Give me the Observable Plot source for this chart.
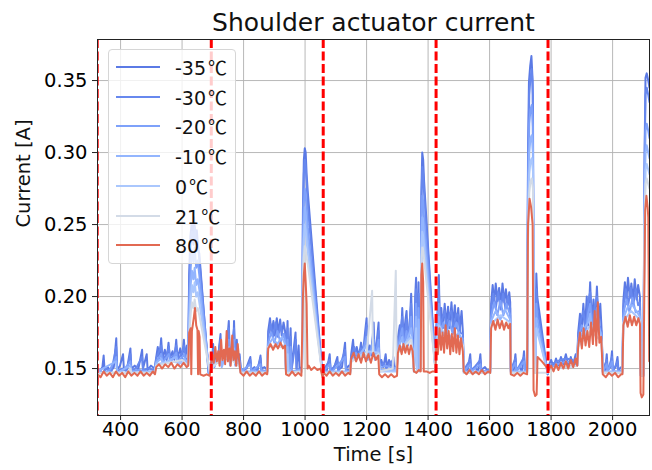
<!DOCTYPE html>
<html><head><meta charset="utf-8">
<script src="https://cdn.jsdelivr.net/npm/d3@7"></script>
<script src="https://cdn.jsdelivr.net/npm/@observablehq/plot@0.6"></script>
<style>
body{margin:0;background:#fff;font-family:"DejaVu Sans",sans-serif;}
#wrap{position:relative;width:652px;height:470px;overflow:hidden;}
#legend{position:absolute;left:108px;top:49px;width:128px;height:215px;background:rgba(255,255,255,0.8);border:1px solid #d6d6d6;border-radius:4px;box-sizing:border-box;}
.li{position:absolute;left:0;height:30px;width:128px;}
.ln{position:absolute;left:7px;width:44px;height:2px;top:14px;}
.lt{position:absolute;left:66px;top:2px;font-size:19px;line-height:26px;color:#111;white-space:nowrap;}
.deg{font-family:"Noto Sans CJK JP","DejaVu Sans",sans-serif;margin-left:2px;}
</style></head>
<body><div id="wrap"></div>
<script>
// ---- data ----
const seriesNames = ["-35", "-30", "-20", "-10", "0", "21", "80"];
const seriesColors = ["#5b7ae5", "#6788ee", "#7ea1fa", "#93b5fe", "#aac7fd", "#d3dbe7", "#e26952"];
const xTicks = [400, 600, 800, 1000, 1200, 1400, 1600, 1800, 2000];
const yTicks = [0.15, 0.20, 0.25, 0.30, 0.35];
const splitTimes = [324, 695, 1059, 1426, 1790];

const sM35 = [[325,.150],[333,.148],[341,.151],[345,.159],[348,.149],[358,.151],[368,.148],[378,.151],[386,.171],[389,.149],[398,.152],[408,.160],[411,.149],[422,.151],[432,.164],[435,.150],[446,.152],[457,.149],[470,.163],[473,.150],[485,.160],[488,.149],[499,.152],[511,.150],
[516,.158],[521,.165],[526,.156],[532,.171],[536,.157],[544,.163],[550,.156],[556,.168],[560,.157],[569,.162],[575,.156],[581,.170],[585,.157],[594,.164],[600,.157],[606,.170],[610,.158],[616,.166],[620,.157],
[623,.215],[627,.242],[631,.250],[635,.238],[639,.255],[644,.240],[648,.246],[653,.232],[656,.230],[686,.147],
[694,.152],[699,.160],[701,.167],[704,.153],[710,.158],[716,.154],[721,.166],[725,.174],[728,.155],[735,.162],[741,.156],[748,.172],[752,.183],[755,.157],[761,.163],[766,.158],[769,.183],[772,.157],[778,.170],[782,.156],[787,.160],
[791,.150],[800,.148],[810,.151],[822,.158],[825,.149],[835,.151],[845,.148],[855,.159],[858,.150],[868,.151],[877,.149],
[880,.176],[886,.185],[891,.174],[897,.183],[902,.173],[908,.185],[913,.175],[919,.184],[924,.173],[930,.182],[935,.176],
[938,.150],[943,.183],[946,.150],[953,.178],[956,.150],[969,.175],[972,.150],[979,.166],[982,.150],[990,.151],
[993,.260],[996,.295],[999,.303],[1002,.300],[1005,.285],[1009,.272],[1056,.146],
[1060,.150],[1070,.148],[1080,.160],[1083,.149],[1095,.151],[1105,.158],[1108,.149],[1120,.151],[1130,.168],[1133,.150],[1142,.152],[1147,.150],
[1150,.160],[1156,.170],[1160,.158],[1168,.165],[1175,.158],[1182,.168],[1188,.159],[1195,.175],[1200,.185],[1203,.160],[1210,.166],[1216,.159],[1223,.182],[1226,.160],[1232,.166],[1239,.182],
[1242,.152],[1248,.156],[1255,.151],[1262,.160],[1266,.151],[1273,.156],[1280,.150],[1287,.158],[1290,.150],[1298,.152],
[1302,.172],[1308,.180],[1312,.170],[1316,.192],[1320,.171],[1326,.183],[1330,.190],[1334,.171],[1340,.180],[1345,.202],[1349,.172],
[1354,.150],[1358,.200],[1361,.213],[1364,.152],[1369,.210],[1372,.152],[1376,.155],
[1378,.270],[1381,.300],[1384,.295],[1387,.280],[1424,.150],
[1427,.180],[1432,.190],[1435,.215],[1438,.182],[1443,.192],[1448,.178],[1454,.195],[1459,.180],[1465,.193],[1470,.178],[1476,.196],[1481,.180],[1487,.194],[1492,.178],[1498,.192],[1503,.177],[1509,.190],[1513,.176],
[1516,.150],[1528,.148],[1537,.160],[1540,.149],[1552,.151],[1563,.148],[1570,.160],[1573,.149],[1585,.151],[1595,.148],[1602,.150],
[1605,.195],[1610,.208],[1615,.196],[1620,.209],[1626,.197],[1631,.206],[1637,.195],[1642,.209],[1648,.196],[1653,.205],[1659,.194],[1664,.203],[1667,.196],
[1669,.150],[1678,.148],[1684,.160],[1687,.149],[1697,.151],[1705,.148],[1712,.162],[1715,.149],[1722,.150],
[1725,.300],[1728,.349],[1732,.360],[1736,.367],[1740,.350],[1743,.200],[1748,.150],[1752,.216],[1755,.200],[1789,.146],
[1792,.152],[1800,.156],[1808,.151],[1816,.157],[1824,.152],[1832,.158],[1840,.153],[1848,.160],[1856,.152],[1864,.158],[1872,.153],[1880,.160],[1885,.154],
[1888,.175],[1894,.188],[1899,.176],[1905,.195],[1910,.178],[1916,.200],[1921,.180],[1927,.210],[1932,.182],[1938,.198],[1943,.180],[1949,.207],[1954,.182],[1960,.195],[1964,.178],
[1968,.150],[1976,.148],[1981,.160],[1984,.149],[1993,.151],[1998,.162],[2001,.149],[2010,.151],[2016,.158],[2019,.149],[2028,.151],[2032,.150],
[2035,.197],[2040,.210],[2045,.198],[2050,.213],[2056,.199],[2061,.209],[2067,.197],[2072,.212],[2078,.198],[2083,.208],[2089,.200],
[2092,.145],[2100,.146],[2104,.300],[2107,.352],[2111,.355],[2116,.350],[2120,.345]];

const sM30 = [[325,.149],[340,.147],[355,.150],[370,.148],[386,.165],[389,.148],[405,.150],[420,.148],[432,.160],[435,.149],[450,.150],[470,.158],[473,.149],[490,.150],[511,.149],
[516,.157],[525,.162],[532,.166],[537,.156],[550,.160],[557,.165],[562,.156],[575,.160],[581,.166],[586,.156],[600,.161],[607,.166],[612,.157],[620,.156],
[623,.205],[628,.235],[632,.245],[637,.236],[641,.248],[646,.232],[651,.238],[656,.226],[687,.147],
[694,.151],[701,.163],[705,.152],[715,.156],[725,.170],[729,.154],[740,.158],[752,.178],[756,.155],[769,.178],[773,.156],[787,.158],
[791,.149],[810,.150],[822,.156],[826,.148],[845,.150],[855,.157],[858,.149],[877,.148],
[880,.172],[888,.181],[896,.172],[904,.182],[912,.172],[920,.180],[928,.172],[935,.174],
[938,.149],[943,.178],[946,.149],[953,.172],[956,.149],[970,.170],[973,.149],[990,.150],
[993,.250],[996,.285],[999,.295],[1002,.290],[1006,.275],[1009,.262],[1056,.146],
[1060,.149],[1080,.156],[1084,.148],[1105,.155],[1108,.148],[1130,.163],[1133,.149],[1147,.149],
[1150,.158],[1160,.165],[1170,.157],[1182,.164],[1190,.158],[1200,.180],[1204,.159],[1215,.163],[1223,.176],[1227,.159],[1239,.176],
[1242,.151],[1255,.154],[1265,.150],[1280,.155],[1290,.150],[1298,.151],
[1302,.168],[1310,.176],[1316,.186],[1321,.168],[1330,.184],[1335,.169],[1345,.195],[1349,.170],
[1354,.149],[1361,.205],[1364,.150],[1369,.202],[1372,.150],[1376,.152],
[1378,.260],[1381,.290],[1384,.285],[1387,.272],[1424,.149],
[1427,.176],[1435,.205],[1439,.178],[1448,.186],[1454,.190],[1460,.177],[1470,.188],[1476,.190],[1482,.177],[1492,.188],[1498,.187],[1505,.175],[1513,.174],
[1516,.149],[1537,.156],[1540,.148],[1570,.156],[1573,.148],[1602,.149],
[1605,.190],[1612,.202],[1620,.192],[1628,.203],[1636,.191],[1644,.202],[1652,.191],[1660,.200],[1667,.192],
[1669,.149],[1684,.157],[1687,.148],[1712,.158],[1715,.148],[1722,.149],
[1725,.290],[1729,.340],[1733,.352],[1737,.358],[1741,.340],[1743,.195],[1748,.149],[1752,.205],[1755,.192],[1789,.146],
[1792,.151],[1810,.154],[1830,.156],[1850,.157],[1870,.156],[1885,.153],
[1888,.172],[1897,.184],[1905,.190],[1912,.176],[1920,.196],[1927,.203],[1935,.180],[1942,.193],[1949,.200],[1957,.180],[1964,.176],
[1968,.149],[1981,.156],[1984,.148],[1998,.158],[2001,.148],[2016,.155],[2019,.148],[2032,.149],
[2035,.193],[2043,.205],[2051,.194],[2059,.206],[2067,.194],[2075,.205],[2083,.194],[2089,.196],
[2092,.145],[2100,.145],[2104,.290],[2107,.340],[2111,.345],[2116,.340],[2120,.335]];

const sM20 = [[325,.148],[345,.147],[365,.149],[386,.158],[389,.147],[410,.149],[432,.155],[435,.148],[460,.149],[490,.148],[511,.148],
[516,.155],[532,.160],[537,.154],[557,.160],[562,.154],[581,.161],[586,.154],[607,.160],[612,.155],[620,.154],
[623,.195],[628,.220],[632,.232],[637,.224],[641,.234],[646,.220],[651,.225],[656,.215],[688,.147],
[694,.150],[701,.159],[705,.151],[725,.164],[729,.152],[752,.170],[756,.153],[769,.170],[773,.153],[787,.155],
[791,.148],[822,.153],[826,.148],[855,.153],[858,.148],[877,.148],
[880,.168],[890,.175],[900,.168],[910,.176],[920,.168],[930,.174],[935,.170],
[938,.148],[943,.170],[946,.148],[953,.165],[956,.148],[990,.149],
[993,.235],[996,.265],[999,.275],[1002,.270],[1006,.258],[1009,.248],[1056,.146],
[1060,.148],[1080,.153],[1084,.147],[1130,.158],[1133,.148],[1147,.148],
[1150,.156],[1165,.161],[1180,.156],[1200,.172],[1204,.157],[1223,.170],[1227,.157],[1239,.170],
[1242,.150],[1260,.152],[1280,.151],[1298,.150],
[1302,.165],[1316,.178],[1321,.165],[1330,.176],[1335,.166],[1345,.186],[1349,.166],
[1354,.149],[1361,.195],[1364,.149],[1369,.192],[1372,.149],[1376,.151],
[1378,.245],[1381,.270],[1384,.266],[1387,.255],[1424,.149],
[1427,.172],[1435,.195],[1439,.174],[1450,.182],[1460,.174],[1470,.183],[1480,.174],[1492,.182],[1502,.172],[1513,.171],
[1516,.148],[1537,.153],[1540,.148],[1570,.153],[1573,.148],[1602,.148],
[1605,.186],[1615,.196],[1625,.187],[1635,.197],[1645,.187],[1655,.195],[1667,.187],
[1669,.148],[1684,.154],[1687,.148],[1712,.155],[1715,.148],[1722,.148],
[1725,.275],[1729,.320],[1733,.330],[1737,.333],[1741,.318],[1743,.185],[1748,.148],[1752,.195],[1755,.185],[1789,.147],
[1792,.150],[1820,.153],[1850,.155],[1885,.152],
[1888,.170],[1900,.180],[1912,.173],[1920,.188],[1927,.195],[1935,.177],[1949,.192],[1957,.177],[1964,.174],
[1968,.148],[1981,.153],[1984,.148],[1998,.155],[2001,.148],[2032,.148],
[2035,.188],[2045,.198],[2055,.189],[2065,.199],[2075,.189],[2089,.190],
[2092,.145],[2100,.145],[2104,.275],[2107,.315],[2111,.320],[2116,.315],[2120,.310]];

const sM10 = [[325,.148],[386,.155],[389,.147],[432,.152],[435,.147],[511,.148],
[516,.154],[532,.157],[540,.153],[560,.156],[581,.158],[590,.153],[607,.157],[620,.153],
[623,.185],[628,.208],[632,.218],[637,.212],[641,.220],[646,.208],[651,.212],[656,.205],[689,.147],
[694,.150],[725,.160],[729,.151],[752,.165],[756,.152],[769,.164],[773,.152],[787,.153],
[791,.148],[877,.148],
[880,.166],[895,.171],[910,.167],[925,.172],[935,.167],
[938,.148],[943,.165],[946,.148],[990,.149],
[993,.225],[996,.250],[999,.262],[1002,.258],[1006,.245],[1009,.238],[1056,.146],
[1060,.148],[1147,.148],[1150,.155],[1170,.158],[1200,.166],[1204,.156],[1223,.165],[1227,.156],[1239,.164],
[1242,.149],[1298,.149],
[1302,.163],[1316,.172],[1321,.163],[1345,.178],[1349,.164],
[1354,.148],[1361,.186],[1364,.148],[1369,.184],[1372,.148],[1376,.150],
[1378,.235],[1381,.255],[1384,.252],[1387,.243],[1424,.149],
[1427,.170],[1435,.186],[1440,.171],[1460,.176],[1480,.170],[1500,.175],[1513,.168],
[1516,.148],[1602,.148],
[1605,.183],[1620,.190],[1635,.184],[1650,.191],[1667,.184],
[1669,.148],[1722,.148],
[1725,.260],[1729,.300],[1733,.310],[1737,.312],[1741,.300],[1743,.178],[1748,.148],[1752,.185],[1755,.178],[1789,.147],
[1792,.150],[1885,.152],
[1888,.168],[1905,.177],[1920,.182],[1927,.188],[1935,.174],[1949,.185],[1964,.172],
[1968,.148],[2032,.148],
[2035,.185],[2050,.193],[2065,.194],[2089,.186],
[2092,.145],[2100,.145],[2104,.262],[2107,.300],[2111,.305],[2116,.300],[2120,.296]];

const s0 = [[325,.147],[511,.147],[516,.153],[560,.155],[620,.153],
[623,.178],[628,.198],[632,.208],[637,.203],[641,.210],[646,.200],[651,.203],[656,.196],[690,.147],
[694,.150],[725,.157],[752,.161],[769,.160],[787,.152],
[791,.147],[877,.147],
[880,.165],[935,.166],
[938,.147],[943,.160],[946,.147],[990,.148],
[993,.220],[996,.240],[999,.250],[1002,.246],[1006,.236],[1009,.230],[1056,.146],
[1060,.147],[1147,.147],[1150,.155],[1200,.162],[1239,.161],
[1242,.148],[1298,.148],
[1302,.162],[1345,.172],[1349,.162],
[1354,.148],[1361,.178],[1364,.148],[1376,.149],
[1378,.228],[1381,.245],[1384,.242],[1387,.235],[1424,.149],
[1427,.168],[1435,.180],[1460,.172],[1513,.167],
[1516,.147],[1602,.147],
[1605,.181],[1635,.187],[1667,.182],
[1669,.147],[1722,.147],
[1725,.250],[1729,.285],[1733,.294],[1737,.296],[1741,.287],[1743,.172],[1748,.147],[1752,.178],[1789,.147],
[1792,.150],[1885,.152],
[1888,.166],[1927,.180],[1949,.178],[1964,.170],
[1968,.147],[2032,.147],
[2035,.183],[2060,.190],[2089,.184],
[2092,.145],[2100,.145],[2104,.255],[2107,.288],[2111,.292],[2116,.288],[2120,.285]];

const s21 = [[325,.147],[420,.147],[432,.150],[435,.147],[511,.147],[516,.152],[560,.154],[600,.156],[620,.152],
[623,.172],[628,.188],[632,.196],[637,.192],[641,.198],[646,.190],[651,.192],[656,.187],[691,.147],
[694,.150],[725,.156],[752,.158],[787,.151],
[791,.147],[877,.147],
[880,.165],[935,.165],
[938,.147],[990,.148],
[993,.215],[996,.228],[999,.235],[1002,.232],[1006,.226],[1009,.222],[1056,.146],
[1060,.147],[1147,.147],[1150,.155],[1200,.160],[1218,.204],[1221,.158],[1239,.160],
[1242,.148],[1285,.150],[1295,.218],[1298,.149],
[1302,.161],[1345,.170],[1349,.162],
[1354,.148],[1376,.149],
[1378,.222],[1381,.234],[1384,.232],[1387,.226],[1424,.149],
[1427,.166],[1460,.170],[1513,.166],
[1516,.147],[1602,.147],
[1605,.180],[1667,.181],
[1669,.147],[1722,.147],
[1725,.240],[1729,.272],[1733,.280],[1737,.282],[1741,.275],[1743,.168],[1748,.147],[1789,.147],
[1792,.150],[1885,.152],
[1888,.165],[1927,.176],[1964,.169],
[1968,.147],[2032,.147],
[2035,.182],[2089,.183],
[2092,.145],[2100,.145],[2104,.250],[2107,.278],[2111,.282],[2116,.278],[2120,.275]];

const s80 = [[325,.146],[335,.144],[345,.148],[355,.145],[365,.147],[375,.144],[385,.148],[395,.145],[405,.147],[415,.144],[425,.148],[435,.145],[445,.147],[455,.145],[465,.148],[475,.145],[485,.147],[495,.145],[505,.148],[512,.146],
[516,.151],[525,.153],[535,.150],[545,.153],[555,.151],[565,.154],[575,.150],[585,.153],[595,.151],[605,.154],[615,.151],[620,.152],
[623,.175],[628,.178],[630,.146],[632,.176],[638,.185],[642,.192],[646,.180],[650,.177],[652,.146],[654,.176],[657,.172],[659,.146],[670,.145],[680,.146],[690,.145],
[693,.150],[698,.160],[703,.154],[708,.165],[713,.155],[718,.162],[722,.152],[727,.170],[731,.156],[736,.163],[740,.153],[745,.176],[749,.155],[754,.164],[758,.152],[763,.173],[767,.156],[772,.162],[776,.152],[781,.167],[786,.155],
[790,.147],[800,.145],[810,.148],[820,.145],[830,.147],[840,.145],[850,.148],[860,.145],[870,.147],[877,.146],
[880,.164],[888,.167],[896,.163],[904,.167],[912,.164],[920,.168],[928,.164],[935,.166],
[938,.146],[948,.145],[958,.148],[968,.145],[978,.147],[988,.145],
[993,.200],[996,.215],[999,.223],[1002,.210],[1005,.195],[1008,.150],[1012,.152],[1020,.149],[1030,.151],[1040,.149],[1050,.150],[1057,.144],
[1060,.147],[1070,.145],[1080,.148],[1090,.145],[1100,.147],[1110,.145],[1120,.148],[1130,.145],[1140,.147],[1147,.146],
[1150,.157],[1158,.161],[1166,.155],[1174,.160],[1182,.154],[1190,.161],[1198,.155],[1206,.160],[1214,.154],[1222,.161],[1230,.156],[1238,.159],
[1241,.146],[1250,.144],[1260,.146],[1270,.144],[1280,.146],[1290,.144],[1299,.145],
[1302,.161],[1308,.166],[1314,.160],[1320,.167],[1326,.161],[1332,.166],[1338,.160],[1344,.166],[1350,.162],
[1354,.148],[1362,.147],[1370,.149],[1376,.148],
[1378,.215],[1381,.223],[1384,.210],[1386,.148],[1395,.148],[1405,.147],[1415,.148],[1424,.148],
[1427,.170],[1432,.160],[1437,.178],[1442,.163],[1447,.175],[1452,.161],[1457,.180],[1462,.164],[1467,.176],[1472,.160],[1477,.174],[1482,.162],[1487,.178],[1492,.161],[1497,.173],[1502,.160],[1507,.171],[1513,.162],
[1516,.148],[1525,.146],[1535,.149],[1545,.146],[1555,.148],[1565,.146],[1575,.149],[1585,.146],[1595,.148],[1602,.147],
[1605,.178],[1612,.183],[1619,.177],[1626,.184],[1633,.178],[1640,.183],[1647,.177],[1654,.182],[1661,.178],[1667,.181],
[1669,.146],[1680,.145],[1690,.147],[1700,.145],[1710,.147],[1722,.146],
[1725,.250],[1730,.268],[1735,.262],[1740,.250],[1743,.135],[1748,.131],[1753,.132],[1756,.158],[1770,.155],[1789,.150],
[1792,.149],[1800,.152],[1808,.148],[1816,.153],[1824,.149],[1832,.154],[1840,.150],[1848,.155],[1856,.150],[1864,.156],[1872,.151],[1880,.157],[1885,.152],
[1888,.165],[1894,.175],[1900,.164],[1906,.178],[1912,.166],[1918,.176],[1924,.165],[1930,.182],[1936,.167],[1942,.190],[1947,.166],[1952,.196],[1957,.168],[1963,.172],
[1968,.146],[1978,.144],[1988,.147],[1998,.145],[2008,.147],[2018,.144],[2028,.146],[2032,.146],
[2035,.180],[2042,.186],[2049,.179],[2056,.187],[2063,.180],[2070,.186],[2077,.180],[2084,.185],[2089,.181],
[2091,.133],[2095,.130],[2100,.132],[2103,.200],[2106,.260],[2110,.270],[2114,.262],[2116,.255],[2119,.155]];

const seriesData = [sM35, sM30, sM20, sM10, s0, s21, s80];

// ---- chart ----
const rows = (arr) => arr.map(([t, v]) => ({t, v}));
const lineMarks = seriesData.map((arr, i) =>
  Plot.line(rows(arr), {x: "t", y: "v", stroke: seriesColors[i], strokeWidth: 2, clip: true}));

const chart = Plot.plot({
  width: 652, height: 470,
  marginLeft: 97, marginRight: 3, marginTop: 39, marginBottom: 55,
  style: {fontFamily: "DejaVu Sans", background: "transparent", color: "#000"},
  x: {domain: [325, 2120]},
  y: {domain: [0.1174, 0.3785]},
  marks: [
    Plot.gridX(xTicks, {stroke: "#b0b0b0", strokeOpacity: 1, strokeWidth: 0.9}),
    Plot.gridY(yTicks, {stroke: "#b0b0b0", strokeOpacity: 1, strokeWidth: 0.9}),
    ...lineMarks,
    Plot.ruleX(splitTimes, {stroke: "#ff0000", strokeWidth: 3, strokeDasharray: "9,3.5", clip: true}),
    Plot.frame({stroke: "#222", strokeWidth: 1}),
    Plot.axisX(xTicks, {tickSize: 5, tickPadding: 2, fontSize: 19.5, label: null, stroke: "#222", tickFormat: d3.format("d")}),
    Plot.axisY(yTicks, {tickSize: 5, tickPadding: 5, fontSize: 19.5, label: null, tickFormat: d3.format(".2f"), stroke: "#222"}),
    Plot.text(["Time [s]"], {frameAnchor: "bottom", dy: 45, fontSize: 19.5, fill: "#111"}),
    Plot.text(["Current [A]"], {frameAnchor: "left", dx: -74, rotate: -90, fontSize: 19.5, fill: "#111"}),
    Plot.text(["Shoulder actuator current"], {frameAnchor: "top", dy: -26, fontSize: 25, fill: "#111"})
  ]
});
const wrap = document.getElementById("wrap");
wrap.appendChild(chart);

// legend
const lg = document.createElement("div");
lg.id = "legend";
seriesNames.forEach((name, i) => {
  const item = document.createElement("div");
  item.className = "li";
  item.style.top = Math.round(2 + i * 29.7) + "px";
  const ln = document.createElement("div");
  ln.className = "ln";
  ln.style.background = seriesColors[i];
  const tx = document.createElement("div");
  tx.className = "lt";
  tx.innerHTML = name + '<span class="deg">℃</span>';
  item.appendChild(ln); item.appendChild(tx);
  lg.appendChild(item);
});
wrap.appendChild(lg);
</script>
</body></html>
